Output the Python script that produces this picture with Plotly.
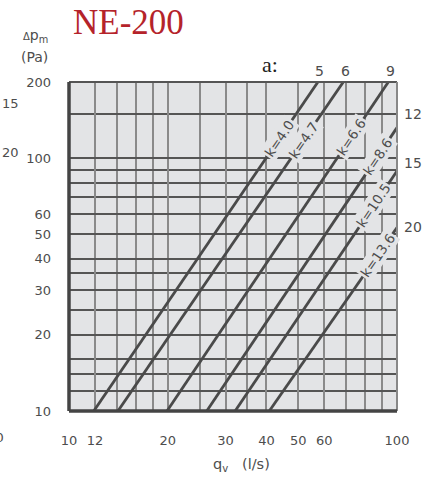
import math
import plotly.graph_objects as go

# ---------------- data ----------------
k_labels = ["k=4.0", "k=4.7", "k=6.6", "k=8.6", "k=10.5", "k=13.6"]
a_labels = ["5", "6", "9", "12", "15", "20"]
q_start = [11.9, 14.1, 19.9, 26.3, 32.1, 40.8]      # l/s at dp_start
dp_start = [10, 10, 10, 10, 10, 10]                 # Pa
q_end = [57.4, 68.6, 94.1, 100, 100, 100]           # l/s at dp_end
dp_end = [200, 200, 200, 132, 89, 53.2]             # Pa
label_dp = [120, 118, 121, 102, 65, 41.4]           # where the k label sits on each line

x_grid = [10, 12, 14, 16, 18, 20, 25, 30, 35, 40, 50, 60, 70, 80, 90, 100]
x_labeled = [10, 12, 20, 30, 40, 50, 60, 100]
y_grid = [10, 12, 14, 16, 20, 25, 30, 35, 40, 50, 60, 70, 80, 90, 100, 150, 200]
y_labeled = [10, 20, 30, 40, 50, 60, 100, 200]

# ---------------- style ----------------
W, H = 428, 479
L, R, T, B = 69, 397, 82, 411
PLOT_BG = "#e3e4e6"
LINE_C = "#4a4a4a"
TXT_C = "#4d4d4d"
FONT = "DejaVu Sans"


def px(x):
    return (x - L) / (R - L)


def py(y):
    return (B - y) / (B - T)


fig = go.Figure()

for i in range(len(k_labels)):
    fig.add_trace(go.Scatter(
        x=[q_start[i], q_end[i]], y=[dp_start[i], dp_end[i]],
        mode="lines", line=dict(color=LINE_C, width=2.8),
        hoverinfo="skip", showlegend=False))

C = dict(xanchor="center", yanchor="middle", showarrow=False)

annotations = []
# k labels along lines
for i in range(len(k_labels)):
    lx0, lx1 = math.log10(q_start[i]), math.log10(q_end[i])
    ly0, ly1 = math.log10(dp_start[i]), math.log10(dp_end[i])
    ly = math.log10(label_dp[i])
    lx = lx0 + (ly - ly0) / (ly1 - ly0) * (lx1 - lx0)
    sx = (lx1 - lx0) / 1.0 * (R - L)
    sy = (ly1 - ly0) / math.log10(20) * (B - T)
    ang = math.degrees(math.atan2(sy, sx))
    annotations.append(dict(
        x=lx, y=ly, xref="x", yref="y", text=k_labels[i],
        textangle=-ang, font=dict(family=FONT, size=13.5, color=TXT_C),
        bgcolor=PLOT_BG, borderpad=1, **C))

# a labels: top ones above line ends, right ones beside line ends
right_shift = [14, 8, 0]
j = 0
for i in range(len(a_labels)):
    if dp_end[i] >= 200:
        annotations.append(dict(
            x=math.log10(q_end[i]), y=py(71), xref="x", yref="paper",
            text=a_labels[i], xshift=2,
            font=dict(family=FONT, size=14, color=TXT_C), **C))
    else:
        annotations.append(dict(
            x=px(413), y=math.log10(dp_end[i]), xref="paper", yref="y",
            text=a_labels[i], yshift=right_shift[j],
            font=dict(family=FONT, size=14, color=TXT_C), **C))
        j += 1

# titles / axis captions
annotations += [
    dict(x=px(128), y=py(22), xref="paper", yref="paper", text="NE-200",
         font=dict(family="Liberation Serif", size=35, color="#b5232a"), **C),
    dict(x=px(270), y=py(64), xref="paper", yref="paper", text="a:",
         font=dict(family="Liberation Serif", size=22, color="#222"), **C),
    dict(x=px(35), y=py(36), xref="paper", yref="paper",
         text="<span style='font-size:10px'>Δ</span>p<sub>m</sub>",
         font=dict(family=FONT, size=14, color=TXT_C), **C),
    dict(x=px(34), y=py(57), xref="paper", yref="paper", text="(Pa)",
         font=dict(family=FONT, size=14, color=TXT_C), **C),
    dict(x=px(241), y=py(465), xref="paper", yref="paper",
         text="q<sub>v</sub>&nbsp;&nbsp;&nbsp;(l/s)",
         font=dict(family=FONT, size=14.5, color=TXT_C), **C),
    # fragments of neighbouring charts
    dict(x=px(10), y=py(103), xref="paper", yref="paper", text="15",
         font=dict(family=FONT, size=13, color=TXT_C), **C),
    dict(x=px(10), y=py(152), xref="paper", yref="paper", text="20",
         font=dict(family=FONT, size=13, color=TXT_C), **C),
    dict(x=px(6), y=py(437), xref="paper", yref="paper", text="100",
         xanchor="right", yanchor="middle", showarrow=False,
         font=dict(family=FONT, size=13, color=TXT_C)),
]

# borders
shapes = [
    dict(type="line", xref="paper", yref="paper", x0=0, x1=1, y0=1, y1=1,
         line=dict(color="#555", width=2)),
    dict(type="line", xref="paper", yref="paper", x0=1, x1=1, y0=0, y1=1,
         line=dict(color="#888", width=2)),
    dict(type="line", xref="paper", yref="paper", x0=0, x1=0, y0=0, y1=1,
         line=dict(color="#444", width=3.5)),
    dict(type="line", xref="paper", yref="paper", x0=0, x1=1, y0=0, y1=0,
         line=dict(color="#444", width=3.5)),
]

fig.update_layout(
    width=W, height=H,
    margin=dict(l=L, r=W - R, t=T, b=H - B, pad=0),
    paper_bgcolor="white", plot_bgcolor=PLOT_BG,
    annotations=annotations, shapes=shapes,
    showlegend=False,
)
fig.update_xaxes(
    type="log", range=[1, 2], tickmode="array", tickvals=x_labeled,
    ticktext=[str(v) for v in x_labeled],
    showgrid=True, gridcolor="#8a8a8a", gridwidth=2, zeroline=False,
    minor=dict(tickvals=[v for v in x_grid if v not in x_labeled],
               showgrid=True, gridcolor="#8a8a8a", gridwidth=2, ticks=""),
    showline=False, ticks="", ticklabelstandoff=20,
    tickfont=dict(family=FONT, size=13, color=TXT_C))
fig.update_yaxes(
    type="log", range=[1, math.log10(200)], tickmode="array", tickvals=y_labeled,
    ticktext=[str(v) for v in y_labeled],
    showgrid=True, gridcolor="#555", gridwidth=1.6, zeroline=False,
    minor=dict(tickvals=[v for v in y_grid if v not in y_labeled],
               showgrid=True, gridcolor="#555", gridwidth=1.6, ticks=""),
    showline=False, ticks="", ticklabelstandoff=17,
    tickfont=dict(family=FONT, size=13, color=TXT_C))

fig.write_html("out.html")
